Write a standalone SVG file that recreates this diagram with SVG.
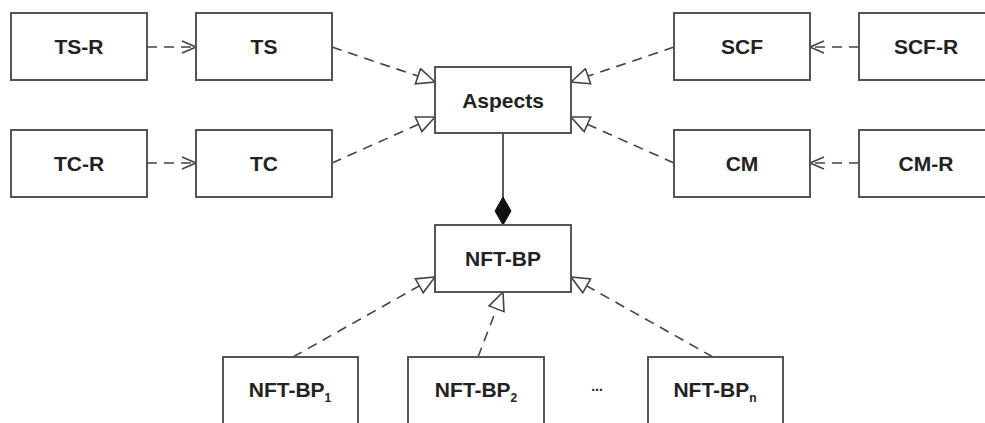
<svg xmlns="http://www.w3.org/2000/svg" width="985" height="423" viewBox="0 0 985 423">
<style>
.box{fill:#fff;stroke:#555;stroke-width:2}
.lbl{font-family:"Liberation Sans",Arial,sans-serif;font-weight:bold;font-size:21px;fill:#222;text-anchor:middle}
.sub{font-size:12px}
.dash{fill:none;stroke:#444;stroke-width:1.6;stroke-dasharray:10,7}
.solid{fill:none;stroke:#333;stroke-width:1.6}
</style>
<defs>
<marker id="gen" markerUnits="userSpaceOnUse" markerWidth="20" markerHeight="18" refX="18" refY="8" orient="auto" viewBox="-1 -1 20 18">
<path d="M0,0 L18,8 L0,16 Z" fill="#fff" stroke="#444" stroke-width="1.6" stroke-dasharray="none"/>
</marker>
<marker id="open" markerUnits="userSpaceOnUse" markerWidth="16" markerHeight="14" refX="14" refY="6" orient="auto" viewBox="-1 -1 16 14">
<path d="M0,0 L14,6 L0,12" fill="none" stroke="#444" stroke-width="1.6" stroke-dasharray="none"/>
</marker>
<marker id="dia" markerUnits="userSpaceOnUse" markerWidth="30" markerHeight="18" refX="28" refY="8" orient="auto" viewBox="-1 -1 30 18">
<path d="M0,8 L14,0 L28,8 L14,16 Z" fill="#111" stroke="#111" stroke-width="1"/>
</marker>
</defs>
<g id="connectors">
<line class="dash" x1="147" y1="47" x2="196" y2="47" marker-end="url(#open)"/>
<line class="dash" x1="147" y1="163" x2="196" y2="163" marker-end="url(#open)"/>
<line class="dash" x1="859" y1="47" x2="810" y2="47" marker-end="url(#open)"/>
<line class="dash" x1="859" y1="163" x2="810" y2="163" marker-end="url(#open)"/>
<line class="dash" x1="332" y1="47" x2="435" y2="82" marker-end="url(#gen)"/>
<line class="dash" x1="332" y1="163" x2="435" y2="117" marker-end="url(#gen)"/>
<line class="dash" x1="674" y1="47" x2="571" y2="82" marker-end="url(#gen)"/>
<line class="dash" x1="674" y1="163" x2="571" y2="117" marker-end="url(#gen)"/>
<line class="solid" x1="503" y1="133" x2="503" y2="225" marker-end="url(#dia)"/>
<line class="dash" x1="293" y1="357" x2="435" y2="277" marker-end="url(#gen)"/>
<line class="dash" x1="478" y1="357" x2="503" y2="292" marker-end="url(#gen)"/>
<line class="dash" x1="713" y1="357" x2="571" y2="277" marker-end="url(#gen)"/>
</g>
<g id="TS-R"><rect class="box" x="11" y="13" width="136" height="67"/><text class="lbl" x="79" y="54">TS-R</text></g>
<g id="TS"><rect class="box" x="196" y="13" width="136" height="67"/><text class="lbl" x="264" y="54">TS</text></g>
<g id="TC-R"><rect class="box" x="11" y="130" width="136" height="67"/><text class="lbl" x="79" y="171">TC-R</text></g>
<g id="TC"><rect class="box" x="196" y="130" width="136" height="67"/><text class="lbl" x="264" y="171">TC</text></g>
<g id="Aspects"><rect class="box" x="435" y="67" width="136" height="66"/><text class="lbl" x="503" y="108">Aspects</text></g>
<g id="SCF"><rect class="box" x="674" y="13" width="136" height="67"/><text class="lbl" x="742" y="54">SCF</text></g>
<g id="SCF-R"><rect class="box" x="859" y="13" width="136" height="67"/><text class="lbl" x="926" y="54">SCF-R</text></g>
<g id="CM"><rect class="box" x="674" y="130" width="136" height="67"/><text class="lbl" x="742" y="171">CM</text></g>
<g id="CM-R"><rect class="box" x="859" y="130" width="136" height="67"/><text class="lbl" x="926" y="171">CM-R</text></g>
<g id="NFT-BP"><rect class="box" x="435" y="225" width="136" height="67"/><text class="lbl" x="503" y="266">NFT-BP</text></g>
<g id="NFT-BP1"><rect class="box" x="223" y="357" width="135" height="68"/><text class="lbl" x="290" y="397">NFT-BP<tspan class="sub" dy="5">1</tspan></text></g>
<g id="NFT-BP2"><rect class="box" x="408" y="357" width="136" height="68"/><text class="lbl" x="476" y="397">NFT-BP<tspan class="sub" dy="5">2</tspan></text></g>
<text class="lbl" x="597" y="391" style="font-size:14px">...</text>
<g id="NFT-BPn"><rect class="box" x="648" y="357" width="135" height="68"/><text class="lbl" x="715" y="397">NFT-BP<tspan class="sub" dy="5">n</tspan></text></g>
</svg>
